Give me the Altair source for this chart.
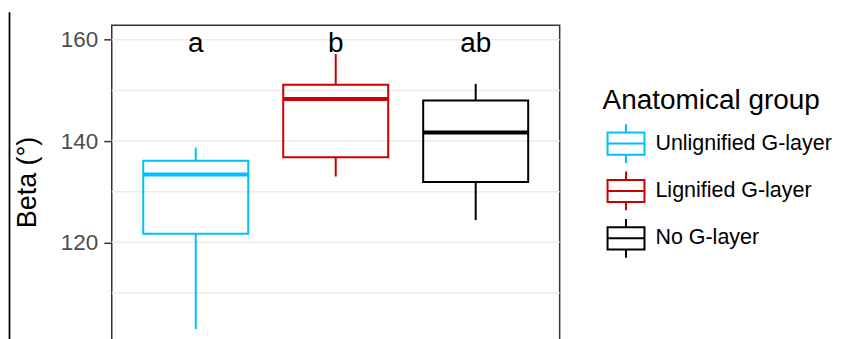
import altair as alt
import pandas as pd

# ---- data ----
groups = ["Unlignified G-layer", "Lignified G-layer", "No G-layer"]
whisker_low = [102.9, 133.0, 124.4]
q1 = [121.7, 136.8, 131.9]
median = [133.4, 148.3, 141.7]
q3 = [136.1, 151.1, 148.0]
whisker_high = [138.7, 157.2, 151.3]
letters = ["a", "b", "ab"]
letter_y = [157.55, 157.55, 157.55]
colors = ["#00BFFF", "#CC0000", "#000000"]
grid_values = [110, 120, 130, 140, 150, 160]
tick_values = [120, 140, 160]
y_title = "Beta (°)"
legend_title = "Anatomical group"

FONT = "Liberation Sans, Arial, sans-serif"

df = pd.DataFrame({
    "group": groups,
    "grp_med": groups,
    "lo": whisker_low,
    "q1": q1,
    "med": median,
    "q3": q3,
    "hi": whisker_high,
    "letter": letters,
    "ly": letter_y,
})
grid_df = pd.DataFrame({"g": grid_values})

yscale = alt.Scale(domain=[100.21, 162.85], nice=False, zero=False)
yaxis = alt.Axis(
    values=tick_values, grid=False, domain=False,
    tickSize=8, tickWidth=1.5, tickColor="#333333",
    labelFontSize=22.5, labelColor="#4D4D4D", labelFont=FONT, labelPadding=6,
    title=y_title, titleFontSize=27, titleFont=FONT, titleColor="black",
    titleFontWeight="normal", titleX=-84, titleY=157, titleAngle=270,
    titleAlign="center", titleBaseline="middle",
)
xscale = alt.Scale(domain=groups, paddingInner=0.25, paddingOuter=0.225)
xenc = alt.X("group:N", scale=xscale, axis=None, sort=groups)

# boxplot glyph built only from straight open segments (so a fill has no area)
box_path = ("M-1.055,-0.6H1.055 M1,-0.6V0.6 M1.055,0.6H-1.055 M-1,0.6V-0.6 "
            "M-1,0H1 M0,-0.6V-1.05 M0,0.6V1.05")
legend = alt.Legend(
    orient="none", legendX=492, legendY=61.6, title=legend_title,
    titleFontSize=28, titleFont=FONT, titleFontWeight="normal", titleColor="black",
    titlePadding=9.4, titleLimit=400, labelFontSize=21.5, labelFont=FONT,
    labelColor="black",
    symbolType=box_path, symbolSize=1369, symbolStrokeWidth=2,
    symbolFillColor="white", symbolOffset=4, labelOffset=10, rowPadding=0.5,
    padding=0, labelLimit=400,
)
stroke_scale = alt.Scale(domain=groups, range=colors)
stroke_enc = alt.Stroke("group:N", scale=stroke_scale, legend=legend, sort=groups)

base = alt.Chart(df)

grid = alt.Chart(grid_df).mark_rule(color="#EBEBEB", strokeWidth=1.5).encode(
    y=alt.Y("g:Q", scale=yscale, axis=yaxis)
)

whisk_low = base.mark_rule(strokeWidth=2).encode(
    x=xenc,
    y=alt.Y("lo:Q", scale=yscale, axis=yaxis),
    y2="q1:Q",
    stroke=stroke_enc,
)
whisk_high = base.mark_rule(strokeWidth=2).encode(
    x=xenc,
    y=alt.Y("q3:Q", scale=yscale, axis=yaxis),
    y2="hi:Q",
    stroke=stroke_enc,
)

boxes = base.mark_bar(filled=False, strokeWidth=2, opacity=1).encode(
    x=xenc,
    y=alt.Y("q1:Q", scale=yscale, axis=yaxis),
    y2="q3:Q",
    stroke=stroke_enc,
)

medians = base.mark_tick(size=105.2, thickness=4, opacity=1).encode(
    x=xenc,
    y=alt.Y("med:Q", scale=yscale, axis=yaxis),
    color=alt.Color("grp_med:N", scale=alt.Scale(domain=groups, range=colors),
                    legend=None, sort=groups),
)

texts = base.mark_text(fontSize=28, font=FONT, baseline="alphabetic", color="black").encode(
    x=xenc,
    y=alt.Y("ly:Q", scale=yscale, axis=yaxis),
    text="letter:N",
)

edge = base.mark_rule(color="black", strokeWidth=1.3).encode(
    x=alt.value(-102.5), y=alt.value(-13), y2=alt.value(400)
)

chart = alt.layer(grid, whisk_low, whisk_high, boxes, medians, texts, edge).properties(
    width=449, height=318,
    padding={"left": 104, "top": 17, "right": 280, "bottom": 0},
    autosize=alt.AutoSizeParams(type="none"),
).configure(
    background="white",
    view=alt.ViewConfig(stroke="#333333", strokeWidth=1.5),
)

chart.save("out.html", embed_options={"renderer": "svg", "actions": False})
